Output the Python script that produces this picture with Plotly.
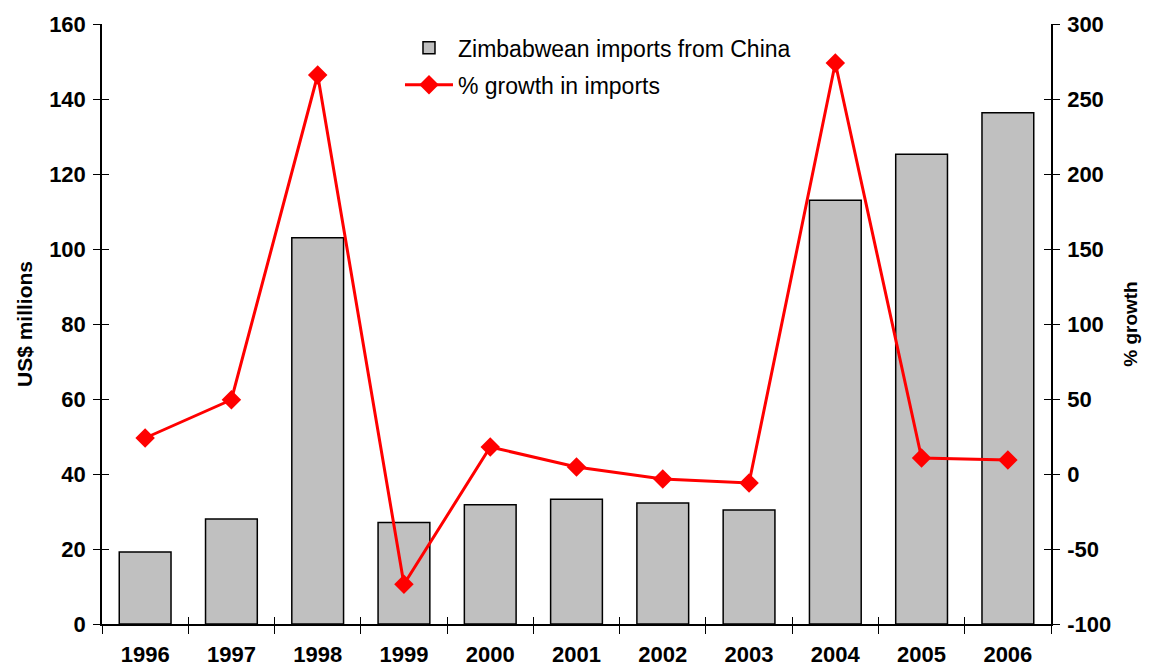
import plotly.graph_objects as go

years = ['1996', '1997', '1998', '1999', '2000', '2001', '2002', '2003', '2004', '2005', '2006']
imports_musd = [19.2, 28.0, 103.0, 27.1, 31.8, 33.3, 32.3, 30.4, 113.0, 125.3, 136.3]
growth_pct = [24, 49.5, 266, -73.5, 18, 4.7, -3.3, -6, 274, 10.7, 9.3]
growth_ticks = [-100, -50, 0, 50, 100, 150, 200, 250, 300]

FONT = 'Liberation Sans, Arial, sans-serif'
tickfont = dict(family=FONT, size=22, color='black', weight='bold')

fig = go.Figure()

fig.add_trace(go.Bar(
    x=years, y=imports_musd, name='Zimbabwean imports from China',
    legendgroup='a',
    marker=dict(color='#c0c0c0', line=dict(color='black', width=1.5)),
    yaxis='y', xaxis='x'
))
fig.add_trace(go.Scatter(
    x=years, y=growth_pct, name='% growth in imports',
    legendgroup='b',
    mode='lines+markers',
    line=dict(color='#ff0000', width=3),
    marker=dict(symbol='diamond', size=15, color='#ff0000'),
    yaxis='y2', xaxis='x'
))
# invisible helper traces so the inside-tick overlay axes get drawn
fig.add_trace(go.Scatter(
    x=years, y=imports_musd, mode='markers', showlegend=False,
    marker=dict(opacity=0), hoverinfo='skip', xaxis='x2', yaxis='y3'
))
fig.add_trace(go.Scatter(
    x=years, y=growth_pct, mode='markers', showlegend=False,
    marker=dict(opacity=0), hoverinfo='skip', xaxis='x2', yaxis='y4'
))

tick_common = dict(tickwidth=1, tickcolor='black', showgrid=False, zeroline=False, automargin=False)
cat_range = [-0.5, len(years) - 0.5]

# the page body adds 8px, so the figure is 8px smaller than the window
fig.update_layout(
    width=1143, height=661,
    paper_bgcolor='white', plot_bgcolor='white',
    margin=dict(l=94, r=100, t=16, b=45),
    bargap=0.4,
    showlegend=True,
    legend=dict(x=0.314, y=0.996, xanchor='left', yanchor='top',
                font=dict(family=FONT, size=23, color='black'),
                itemwidth=48,
                bgcolor='rgba(0,0,0,0)', tracegroupgap=4),
    xaxis=dict(
        type='category', range=cat_range, showline=True, linecolor='black', linewidth=1.5,
        ticks='outside', ticklen=8, tickson='boundaries', ticklabelstandoff=10,
        tickfont=tickfont, **tick_common
    ),
    xaxis2=dict(
        type='category', overlaying='x', matches='x', anchor='y3', side='bottom',
        ticks='inside', ticklen=7, tickson='boundaries',
        showticklabels=False, showline=False, **tick_common
    ),
    yaxis=dict(
        range=[0, 160], dtick=20, showline=True, linecolor='black', linewidth=1.5,
        ticks='outside', ticklen=7, ticklabelstandoff=3, tickfont=tickfont, **tick_common,
        title=dict(text='US$ millions', font=dict(family=FONT, size=21, color='black', weight='bold'),
                   standoff=11)
    ),
    yaxis3=dict(
        range=[0, 160], dtick=20, overlaying='y', anchor='x2', side='left',
        ticks='inside', ticklen=7, showticklabels=False, showline=False, **tick_common
    ),
    yaxis2=dict(
        range=[-100, 300], tickvals=growth_ticks, ticktext=[str(v) for v in growth_ticks],
        overlaying='y', side='right',
        showline=True, linecolor='black', linewidth=1.5,
        ticks='outside', ticklen=7, ticklabelstandoff=3, tickfont=tickfont, **tick_common,
        title=dict(text='% growth', font=dict(family=FONT, size=19, color='black', weight='bold'),
                   standoff=14)
    ),
    yaxis4=dict(
        range=[-100, 300], tickvals=growth_ticks, overlaying='y', anchor='x2', side='right',
        ticks='inside', ticklen=7, showticklabels=False, showline=False, **tick_common
    ),
)

fig.write_html('out.html')
